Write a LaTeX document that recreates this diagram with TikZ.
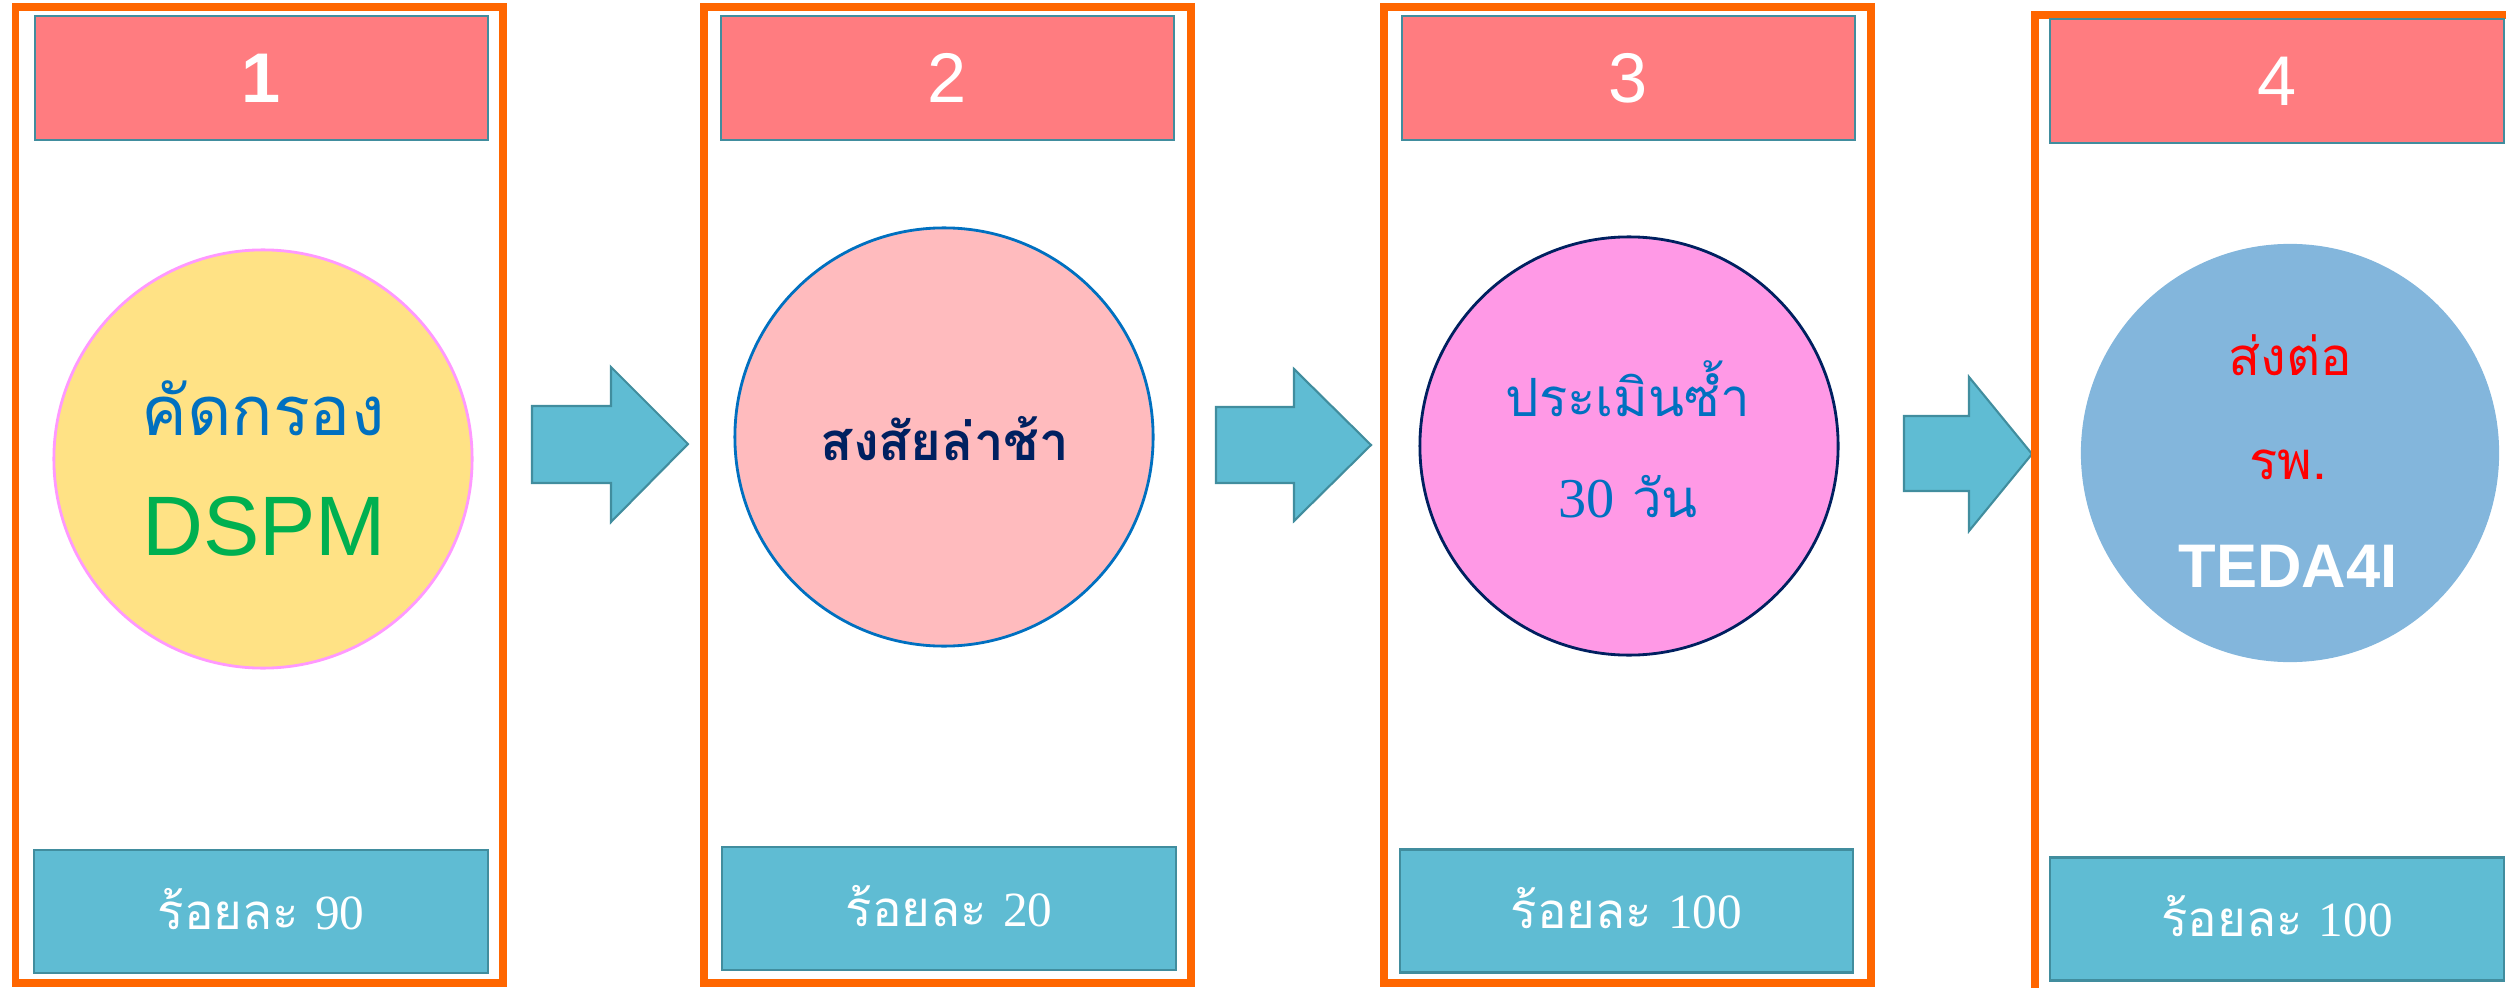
\documentclass[tikz,border=0pt]{standalone}
\usepackage{fontspec}
\usepackage{tikz}
\usetikzlibrary{shapes}
\newfontfamily\thaifont[Script=Thai]{Loma}
\newfontfamily\headfont{Liberation Sans}
\newfontfamily\numfont{Liberation Serif}
\newcommand{\percent}[1]{{\thaifont ร้อยละ} {\numfont #1}}

\begin{document}
\begin{tikzpicture}[x=0.01cm,y=-0.01cm]
	\definecolor{frameorange}{HTML}{FF6600}
	\definecolor{headred}{HTML}{FF7C80}
	\definecolor{rateteal}{HTML}{5FBCD3}
	\definecolor{edgeteal}{HTML}{418D9E}
	\definecolor{circyellow}{HTML}{FFE285}
	\definecolor{circpinkedge}{HTML}{FF99FF}
	\definecolor{circpink}{HTML}{FFBBBE}
	\definecolor{circmagenta}{HTML}{FF99E6}
	\definecolor{circblue}{HTML}{83B6DC}
	\definecolor{thaiblue}{HTML}{0070C0}
	\definecolor{dspmgreen}{HTML}{00B050}
	\definecolor{navy}{HTML}{002060}
	\tikzset{
		stepframe/.style={draw=frameorange,line width=2.2pt},
		headbox/.style={draw=edgeteal,fill=headred,line width=0.6pt,minimum width=4.53cm,minimum height=1.24cm,
			text=white,font=\headfont\fontsize{20}{24}\selectfont},
		ratebox/.style={draw=edgeteal,fill=rateteal,line width=0.6pt,minimum width=4.53cm,minimum height=1.23cm,
			inner sep=0pt,text height=0.35cm,text depth=0pt,text=white,font=\fontsize{14}{16}\selectfont},
		stagecircle/.style={circle,minimum size=4.18cm,inner sep=0pt,line width=0.8pt},
		blockarrow/.style={draw=edgeteal,fill=rateteal,line width=0.6pt}
	}
	\clip (0,0) rectangle (2506,988);
	
	% arrows between the steps
	\draw[blockarrow] (532,406) -- (611,406) -- (611,367) -- (688,444) -- (611,522) -- (611,483) -- (532,483) -- cycle;
	\draw[blockarrow] (1216,407) -- (1294,407) -- (1294,369) -- (1371,445) -- (1294,521) -- (1294,483) -- (1216,483) -- cycle;
	\draw[blockarrow] (1904,416) -- (1969,416) -- (1969,377) -- (2032,454) -- (1969,531) -- (1969,491) -- (1904,491) -- cycle;
	
	% frames
	\draw[stepframe] (15.5,7) rectangle (503,983);
	\draw[stepframe] (704,7) rectangle (1191,983);
	\draw[stepframe] (1384,7) rectangle (1871,983);
	\draw[stepframe] (2035,15) rectangle (2540,1020);
	
	% headers
	\node[headbox] (head1) at (261.5,78) {\bfseries 1};
	\node[headbox] (head2) at (947.5,78) {2};
	\node[headbox] (head3) at (1628.5,78) {3};
	\node[headbox] (head4) at (2277,81) {4};
	
	% circles
	\node[stagecircle,fill=circyellow,draw=circpinkedge] (circ1) at (263,459) {};
	\node[stagecircle,fill=circpink,draw=thaiblue] (circ2) at (944,437) {};
	\node[stagecircle,fill=circmagenta,draw=navy] (circ3) at (1629,446) {};
	\node[stagecircle,fill=circblue] (circ4) at (2290,453) {};
	
	% labels
	\node[anchor=base,text=thaiblue,font=\thaifont\fontsize{19.5}{23}\selectfont] (screen) at (263,435) {คัดกรอง};
	\node[anchor=base,text=dspmgreen,font=\headfont\fontsize{24}{28}\selectfont] (dspm) at (264,555) {DSPM};
	\node[anchor=base,text=navy,font=\thaifont\bfseries\fontsize{15}{18}\selectfont] (delay) at (945,460) {สงสัยล่าช้า};
	\node[anchor=base,text=thaiblue,font=\thaifont\fontsize{15}{18}\selectfont] (reassess) at (1628,416) {ประเมินซ้ำ};
	\node[anchor=base,text=thaiblue,font=\thaifont\fontsize{15}{18}\selectfont] (days) at (1628,517) {{\numfont\fontsize{16}{18}\selectfont 30} วัน};
	\node[anchor=base,text=red,font=\thaifont\fontsize{15}{18}\selectfont] (refer) at (2290,375) {ส่งต่อ};
	\node[anchor=base,text=red,font=\thaifont\fontsize{15}{18}\selectfont] (hosp) at (2288,479) {รพ.};
	\node[anchor=base,text=white,font=\headfont\bfseries\fontsize{17.5}{21}\selectfont] (teda) at (2288,587) {TEDA4I};
	
	\node[ratebox] (rate1) at (261,911.5) {\percent{90}};
	\node[ratebox] (rate2) at (949,908.5) {\percent{20}};
	\node[ratebox] (rate3) at (1626.5,911) {\percent{100}};
	\node[ratebox] (rate4) at (2277,919) {\percent{100}};
\end{tikzpicture}
\end{document}
